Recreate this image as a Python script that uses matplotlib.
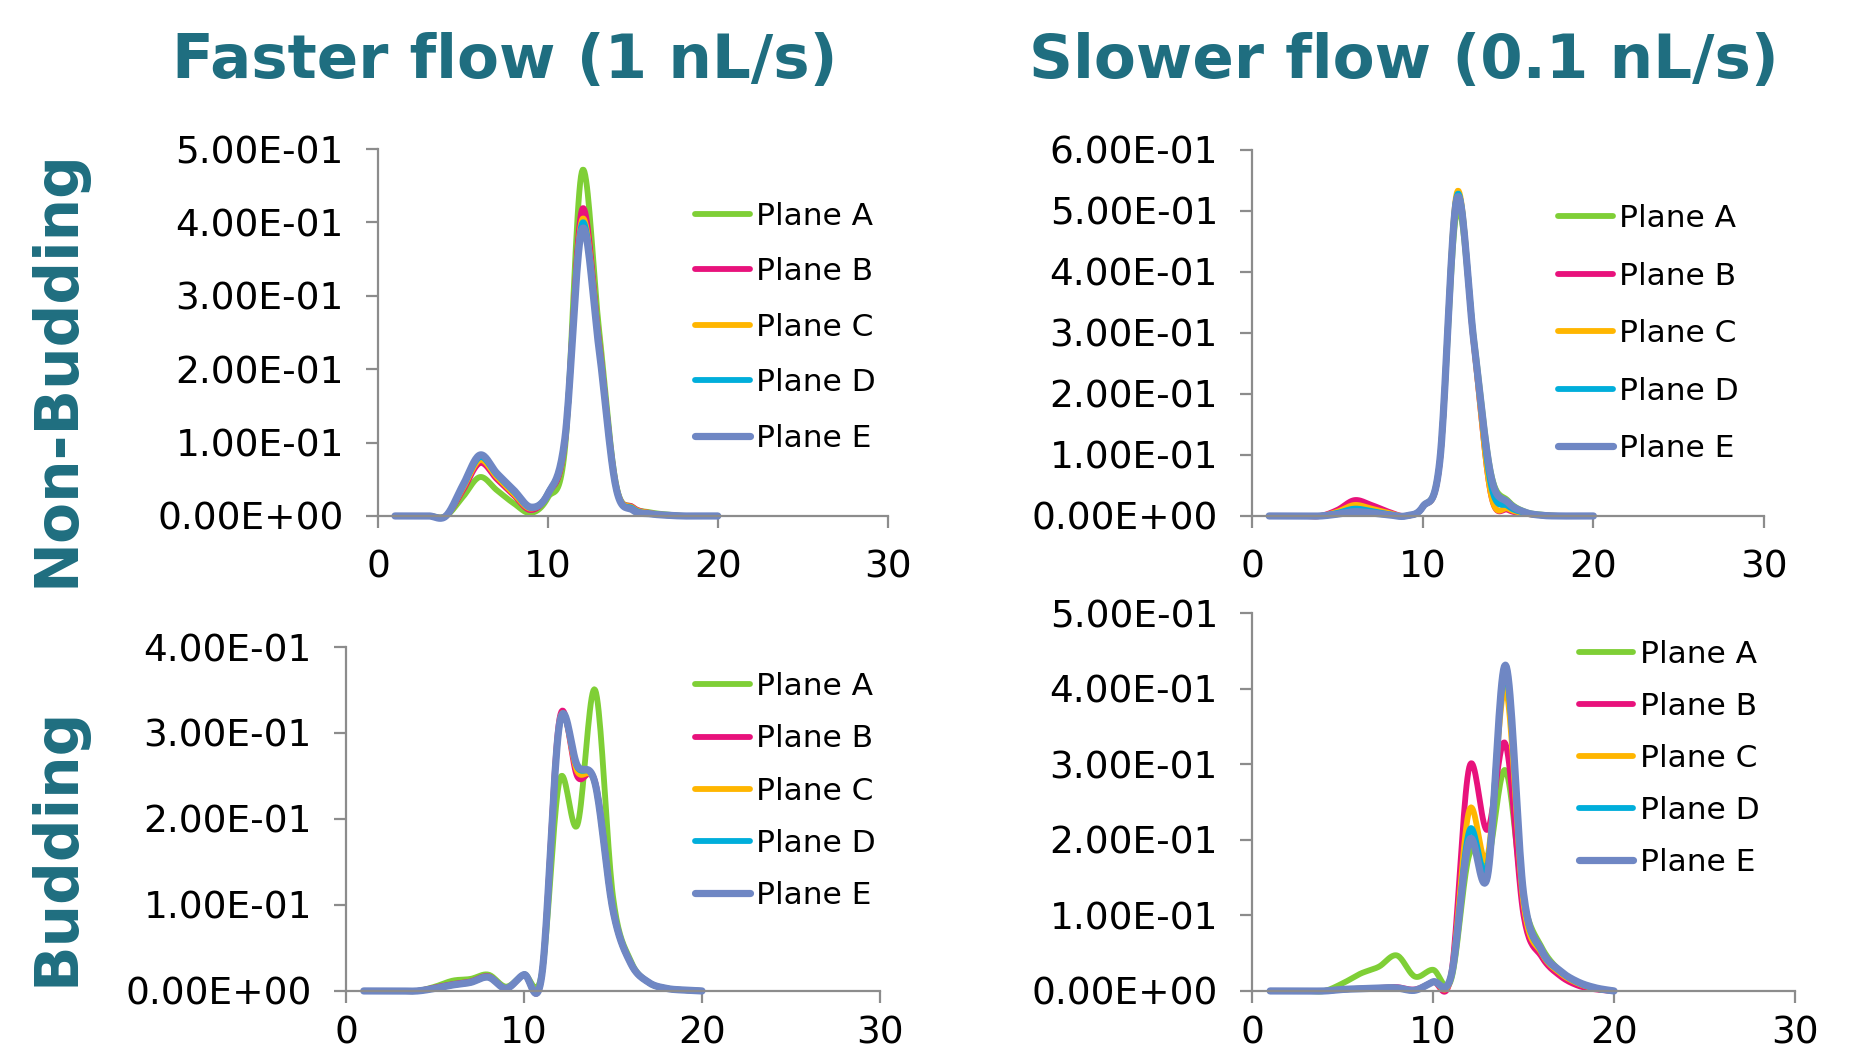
import numpy as np
import matplotlib
matplotlib.use("Agg")
import matplotlib.pyplot as plt
from matplotlib.ticker import FixedLocator, FuncFormatter

# x positions of the measurements
x_vals = list(range(1, 21))
planes = ["Plane A", "Plane B", "Plane C", "Plane D", "Plane E"]
colors = ["#7fcf36", "#e8127c", "#ffb600", "#00aedb", "#6f87c4"]
widths = [4.2, 4.2, 4.2, 4.2, 5.2]

# faster flow, non-budding
fast_nb_a = [0, 0, 0, 0, 0.026, 0.053, 0.035, 0.017, 0.004, 0.025, 0.090, 0.469, 0.257, 0.045, 0.012, 0.005, 0.002, 0, 0, 0]
fast_nb_b = [0, 0, 0, 0, 0.035, 0.072, 0.050, 0.028, 0.008, 0.030, 0.100, 0.417, 0.240, 0.042, 0.012, 0.004, 0.001, 0, 0, 0]
fast_nb_c = [0, 0, 0, 0, 0.038, 0.076, 0.053, 0.030, 0.010, 0.031, 0.102, 0.403, 0.235, 0.042, 0.011, 0.004, 0.001, 0, 0, 0]
fast_nb_d = [0, 0, 0, 0, 0.040, 0.080, 0.056, 0.033, 0.011, 0.031, 0.104, 0.398, 0.232, 0.040, 0.010, 0.003, 0.001, 0, 0, 0]
fast_nb_e = [0, 0, 0, 0, 0.042, 0.083, 0.058, 0.035, 0.012, 0.030, 0.105, 0.390, 0.230, 0.040, 0.008, 0.003, 0.001, 0, 0, 0]

# slower flow, non-budding
slow_nb_a = [0, 0, 0, 0, 0.003, 0.005, 0.004, 0.002, 0, 0.015, 0.090, 0.500, 0.290, 0.070, 0.025, 0.007, 0.002, 0, 0, 0]
slow_nb_b = [0, 0, 0, 0, 0.010, 0.026, 0.018, 0.007, 0, 0.015, 0.088, 0.520, 0.280, 0.035, 0.010, 0.004, 0.001, 0, 0, 0]
slow_nb_c = [0, 0, 0, 0, 0.007, 0.018, 0.012, 0.005, 0, 0.015, 0.089, 0.530, 0.280, 0.035, 0.012, 0.004, 0.001, 0, 0, 0]
slow_nb_d = [0, 0, 0, 0, 0.005, 0.012, 0.008, 0.003, 0, 0.015, 0.090, 0.525, 0.285, 0.050, 0.016, 0.005, 0.001, 0, 0, 0]
slow_nb_e = [0, 0, 0, 0, 0.003, 0.007, 0.005, 0.002, 0, 0.015, 0.090, 0.520, 0.285, 0.065, 0.022, 0.006, 0.001, 0, 0, 0]

# faster flow, budding
fast_b_a = [0, 0, 0, 0, 0.005, 0.012, 0.014, 0.019, 0.005, 0.019, 0.020, 0.245, 0.193, 0.350, 0.110, 0.035, 0.010, 0.003, 0.001, 0]
fast_b_b = [0, 0, 0, 0, 0.004, 0.008, 0.011, 0.017, 0.003, 0.019, 0.018, 0.317, 0.249, 0.243, 0.094, 0.032, 0.010, 0.003, 0.001, 0]
fast_b_c = [0, 0, 0, 0, 0.003, 0.007, 0.010, 0.016, 0.003, 0.019, 0.018, 0.313, 0.255, 0.240, 0.094, 0.032, 0.010, 0.003, 0.001, 0]
fast_b_d = [0, 0, 0, 0, 0.003, 0.007, 0.010, 0.016, 0.003, 0.019, 0.018, 0.310, 0.260, 0.241, 0.094, 0.032, 0.010, 0.003, 0.001, 0]
fast_b_e = [0, 0, 0, 0, 0.003, 0.007, 0.010, 0.016, 0.003, 0.019, 0.018, 0.311, 0.262, 0.241, 0.094, 0.032, 0.010, 0.003, 0.001, 0]

# slower flow, budding
slow_b_a = [0, 0, 0, 0, 0.010, 0.023, 0.032, 0.047, 0.019, 0.028, 0.015, 0.180, 0.170, 0.292, 0.120, 0.058, 0.027, 0.010, 0.003, 0]
slow_b_b = [0, 0, 0, 0, 0.002, 0.003, 0.004, 0.005, 0.002, 0.012, 0.022, 0.296, 0.213, 0.327, 0.100, 0.045, 0.020, 0.007, 0.002, 0]
slow_b_c = [0, 0, 0, 0, 0.002, 0.003, 0.004, 0.004, 0.001, 0.012, 0.020, 0.239, 0.177, 0.400, 0.115, 0.050, 0.024, 0.010, 0.003, 0]
slow_b_d = [0, 0, 0, 0, 0.002, 0.003, 0.004, 0.004, 0.001, 0.012, 0.020, 0.212, 0.164, 0.420, 0.125, 0.052, 0.026, 0.011, 0.003, 0]
slow_b_e = [0, 0, 0, 0, 0.002, 0.003, 0.004, 0.004, 0.001, 0.012, 0.020, 0.199, 0.151, 0.431, 0.129, 0.054, 0.027, 0.012, 0.004, 0]

teal = "#1f6e80"
grey = "#8c8c8c"


def smooth(x, y, n=20):
    # Excel-style smoothed line: bezier segments through the points
    x = np.asarray(x, float)
    y = np.asarray(y, float)
    px = np.concatenate([[x[0]], x, [x[-1]]])
    py = np.concatenate([[y[0]], y, [y[-1]]])
    t = np.linspace(0, 1, n, endpoint=False)[:, None]
    xs, ys = [], []
    for i in range(1, len(px) - 2):
        p0 = np.array([px[i], py[i]])
        p3 = np.array([px[i + 1], py[i + 1]])
        p1 = p0 + (np.array([px[i + 1], py[i + 1]]) - np.array([px[i - 1], py[i - 1]])) / 6
        p2 = p3 - (np.array([px[i + 2], py[i + 2]]) - np.array([px[i], py[i]])) / 6
        pts = ((1 - t) ** 3) * p0 + 3 * ((1 - t) ** 2) * t * p1 + 3 * (1 - t) * t ** 2 * p2 + t ** 3 * p3
        xs.append(pts[:, 0])
        ys.append(pts[:, 1])
    xs.append([x[-1]])
    ys.append([y[-1]])
    return np.concatenate(xs), np.concatenate(ys)


def panel(rect, series, ymax, leg_anchor, leg_space, xpad=16):
    ax = fig.add_axes(rect)
    for s, name, c, w in zip(series, planes, colors, widths):
        sx, sy = smooth(x_vals, s)
        ax.plot(sx, sy, color=c, lw=w, label=name, solid_capstyle="round",
                solid_joinstyle="round", clip_on=False)
    ax.set_xlim(0, 30)
    ax.set_ylim(0, ymax)
    ax.xaxis.set_major_locator(FixedLocator([0, 10, 20, 30]))
    ax.yaxis.set_major_locator(FixedLocator(np.round(np.arange(0, ymax + 0.001, 0.1), 2)))
    ax.yaxis.set_major_formatter(FuncFormatter(lambda v, p: f"{v:.2E}"))
    for side in ["top", "right"]:
        ax.spines[side].set_visible(False)
    for side in ["left", "bottom"]:
        ax.spines[side].set_color(grey)
        ax.spines[side].set_linewidth(1.6)
    ax.tick_params(direction="out", length=8.5, width=1.6, color=grey,
                   labelsize=27, pad=16)
    ax.tick_params(axis="x", pad=xpad)
    ax.legend(loc="upper left", bbox_to_anchor=leg_anchor, bbox_transform=fig.transFigure,
              frameon=False, fontsize=22.5, handlelength=1.75, handletextpad=0.2,
              labelspacing=leg_space, borderpad=0, borderaxespad=0)
    return ax


fig = plt.figure(figsize=(18.53, 10.56), dpi=100)

panel([0.204, 0.5114, 0.275, 0.3475],
      [fast_nb_a, fast_nb_b, fast_nb_c, fast_nb_d, fast_nb_e], 0.5, (0.375, 0.809), 0.85)
panel([0.6757, 0.5114, 0.2763, 0.3466],
      [slow_nb_a, slow_nb_b, slow_nb_c, slow_nb_d, slow_nb_e], 0.6, (0.8408, 0.8065), 0.91)
panel([0.1867, 0.0616, 0.2882, 0.3257],
      [fast_b_a, fast_b_b, fast_b_c, fast_b_d, fast_b_e], 0.4, (0.375, 0.3633), 0.74, xpad=9)
panel([0.6757, 0.0616, 0.293, 0.3579],
      [slow_b_a, slow_b_b, slow_b_c, slow_b_d, slow_b_e], 0.5, (0.852, 0.394), 0.74, xpad=9)

fig.text(505 / 1853, 1 - 61 / 1056, "Faster flow (1 nL/s)", ha="center", va="center",
         fontsize=44, fontweight="bold", color=teal)
fig.text(1404 / 1853, 1 - 61 / 1056, "Slower flow (0.1 nL/s)", ha="center", va="center",
         fontsize=44, fontweight="bold", color=teal)
fig.text(57 / 1853, 1 - 368 / 1056, "Non-Budding", ha="center", va="center", rotation=90,
         fontsize=43, fontweight="bold", color=teal)
fig.text(57 / 1853, 1 - 846 / 1056, "Budding", ha="center", va="center", rotation=90,
         fontsize=43, fontweight="bold", color=teal)

fig.savefig("out.png", dpi=100)
